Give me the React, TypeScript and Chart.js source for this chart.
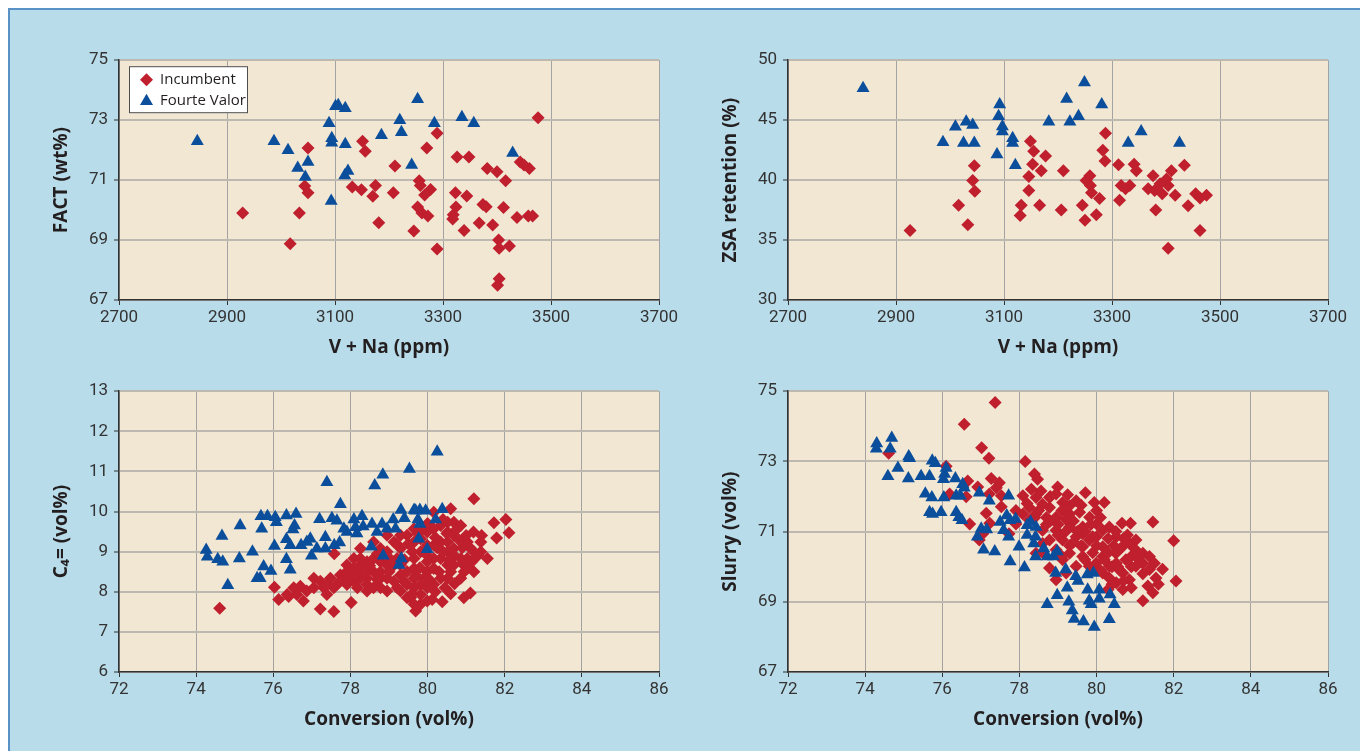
import React, { useEffect, useRef } from "react";
import { Chart, registerables } from "chart.js";

Chart.register(...registerables);

const RED = "#c01f2e";
const BLUE = "#0b4e9c";

const SERIES_NAMES = ["Incumbent", "Fourte Valor"];

// ---- Tick labels ----
const vnaTicks = [2700, 2900, 3100, 3300, 3500, 3700];
const factTicks = [67, 69, 71, 73, 75];
const zsaTicks = [30, 35, 40, 45, 50];
const convTicks = [72, 74, 76, 78, 80, 82, 84, 86];
const c4Ticks = [6, 7, 8, 9, 10, 11, 12, 13];
const slurryTicks = [67, 69, 71, 73, 75];

// ---- FACT vs V+Na ----
const factIncumbent: [number, number][] = [
  [2929, 69.9], [3017, 68.88], [3034, 69.9], [3050, 72.07], [3044, 70.8], [3050, 70.58], [3151, 72.3], [3156, 71.96],
  [3132, 70.77], [3149, 70.68], [3175, 70.82], [3170, 70.46], [3208, 70.58], [3181, 69.58], [3211, 71.47], [3270, 72.07],
  [3289, 72.56], [3256, 70.98], [3258, 70.82], [3277, 70.69], [3266, 70.5], [3253, 70.1], [3261, 69.9], [3272, 69.8],
  [3246, 69.3], [3289, 68.7], [3326, 71.77], [3348, 71.77], [3323, 70.58], [3344, 70.47], [3324, 70.1], [3319, 69.84],
  [3318, 69.7], [3339, 69.32], [3367, 69.57], [3374, 70.19], [3380, 70.11], [3392, 69.5], [3403, 69.0], [3404, 68.73],
  [3423, 68.8], [3412, 70.09], [3416, 70.98], [3382, 71.39], [3400, 71.28], [3443, 71.6], [3460, 71.39], [3437, 69.75],
  [3458, 69.8], [3466, 69.8], [3404, 67.71], [3401, 67.49], [3476, 73.08], [3450, 71.5],
];
const factFourte: [number, number][] = [
  [2845, 72.3], [2987, 72.3], [3013, 72.0], [3050, 71.6], [3031, 71.4], [3045, 71.1], [3093, 70.3], [3101, 73.46],
  [3106, 73.5], [3119, 73.4], [3089, 72.9], [3094, 72.4], [3094, 72.25], [3119, 72.2], [3124, 71.3], [3118, 71.15],
  [3186, 72.5], [3220, 73.0], [3223, 72.6], [3253, 73.7], [3284, 72.9], [3242, 71.5], [3335, 73.1], [3357, 72.9],
  [3429, 71.9],
];

// ---- ZSA retention vs V+Na ----
const zsaIncumbent: [number, number][] = [
  [2926, 35.8], [3016, 37.9], [3033, 36.28], [3045, 41.19], [3042, 39.96], [3046, 39.06], [3149, 43.23], [3155, 42.41],
  [3177, 42.0], [3153, 41.32], [3169, 40.78], [3146, 40.29], [3146, 39.14], [3132, 37.9], [3130, 37.04], [3166, 37.9],
  [3210, 40.78], [3206, 37.5], [3259, 40.37], [3252, 39.96], [3260, 39.55], [3262, 38.95], [3277, 38.46], [3245, 37.9],
  [3271, 37.1], [3250, 36.66], [3288, 43.91], [3283, 42.49], [3287, 41.6], [3312, 41.27], [3341, 41.32], [3345, 40.78],
  [3317, 39.55], [3333, 39.55], [3325, 39.28], [3314, 38.32], [3376, 40.37], [3367, 39.28], [3379, 39.14], [3401, 40.1],
  [3410, 40.78], [3393, 38.87], [3417, 38.73], [3381, 37.5], [3434, 41.24], [3441, 37.86], [3455, 38.87], [3463, 38.5],
  [3475, 38.73], [3463, 35.8], [3404, 34.32], [3404, 39.55], [3389, 39.7],
];
const zsaFourte: [number, number][] = [
  [2839, 47.67], [2987, 43.15], [3010, 44.45], [3030, 44.86], [3042, 44.6], [3025, 43.1], [3045, 43.1], [3092, 46.3],
  [3090, 45.33], [3097, 44.46], [3097, 44.05], [3116, 43.5], [3116, 43.1], [3087, 42.14], [3121, 41.24], [3183, 44.86],
  [3216, 46.77], [3222, 44.86], [3238, 45.33], [3249, 48.13], [3281, 46.3], [3330, 43.1], [3354, 44.05], [3425, 43.1],
];

// ---- C4= vs Conversion ----
const c4Incumbent: [number, number][] = [
  [74.61, 7.59], [76.03, 8.11], [76.14, 7.81], [76.4, 7.88], [76.61, 7.93], [76.78, 7.77], [76.7, 8.14], [77.05, 8.34],
  [77.22, 7.57], [77.57, 7.51], [78.02, 7.73], [77.31, 8.1], [77.65, 8.18], [77.74, 8.42], [77.91, 8.18], [78.09, 8.5],
  [78.26, 8.67], [78.43, 8.34], [78.6, 8.1], [78.78, 8.5], [78.43, 8.75], [78.95, 9.0], [78.78, 9.08], [79.13, 9.24],
  [79.21, 8.1], [79.47, 7.85], [79.69, 7.52], [79.82, 7.69], [79.65, 8.34], [79.99, 8.5], [80.16, 8.18], [80.38, 7.75],
  [80.12, 7.81], [80.94, 7.85], [81.11, 7.97], [80.52, 9.49], [80.68, 9.73], [80.6, 10.07], [81.2, 10.32], [80.16, 9.98],
  [81.72, 9.72], [82.03, 9.8], [82.11, 9.47], [81.79, 9.34], [81.19, 9.49], [81.38, 9.24], [81.55, 8.83], [81.03, 8.83],
  [81.2, 8.5], [80.86, 8.34], [80.52, 8.34], [80.68, 8.67], [80.34, 8.83], [80.16, 9.16], [79.82, 9.0], [79.99, 9.49],
  [81.03, 9.24], [81.38, 9.0], [80.86, 9.65], [79.65, 8.83], [79.47, 8.5], [79.3, 8.42], [79.13, 8.67], [78.95, 8.34],
  [79.3, 9.08], [79.47, 9.41], [79.65, 9.57], [78.95, 9.41], [78.6, 9.24], [78.26, 9.08], [78.09, 8.83], [77.91, 8.67],
  [77.74, 8.26], [77.48, 8.34], [77.22, 8.26], [76.87, 8.02], [77.05, 8.1], [77.39, 7.93], [78.18, 8.1], [78.43, 8.02],
  [78.78, 8.1], [78.95, 8.02], [79.3, 8.02], [79.65, 8.1], [79.82, 7.93], [79.47, 8.18], [79.99, 8.1], [80.34, 8.34],
  [80.16, 8.58], [80.52, 8.67], [80.86, 8.83], [80.68, 9.08], [80.34, 9.24], [80.52, 9.24], [80.68, 9.41], [81.03, 8.58],
  [81.2, 9.0], [80.16, 8.83], [79.99, 8.75], [79.65, 8.58], [79.21, 8.83], [78.78, 8.75], [78.6, 8.5], [78.43, 8.5],
  [78.26, 8.34], [78.09, 8.26], [77.91, 8.34], [77.57, 8.1], [77.39, 8.18], [76.53, 8.1], [76.36, 7.93], [78.43, 8.18],
  [78.09, 8.42], [79.65, 9.24], [79.3, 9.41], [79.82, 9.32], [79.99, 9.16], [80.52, 9.0], [80.34, 9.65], [80.52, 9.73],
  [80.16, 9.57], [79.9, 8.34], [79.82, 8.18], [79.56, 7.85], [79.65, 7.69], [79.99, 7.77], [79.13, 8.26], [78.78, 8.34],
  [78.6, 8.83], [78.26, 8.83], [78.95, 8.67], [79.3, 8.67], [77.58, 8.95], [79.89, 9.57],
  [80.9, 9.1], [81.0, 9.4], [80.7, 8.9], [80.4, 9.0], [80.3, 8.5], [80.0, 8.9], [79.8, 8.6], [80.6, 8.5],
  [80.9, 8.7], [81.1, 9.1], [80.5, 9.45], [80.2, 9.35], [79.9, 9.0], [79.6, 9.0], [79.4, 8.8], [79.7, 8.4],
  [80.05, 8.3], [80.45, 8.1], [80.7, 8.2], [80.95, 8.5], [81.3, 8.9], [81.4, 9.4], [80.75, 9.55], [80.4, 9.8],
  [80.0, 9.7], [79.5, 9.2], [79.2, 9.2], [79.0, 8.85], [78.7, 8.95], [78.5, 8.65], [78.3, 8.55], [78.1, 8.6],
  [77.9, 8.5], [78.7, 8.3], [79.0, 8.5], [79.4, 8.25], [80.2, 8.0], [80.6, 7.95], [79.6, 7.95], [79.9, 8.2],
  [80.8, 9.3], [81.15, 8.75], [80.55, 8.8], [79.75, 9.45], [80.25, 9.1],
];
const c4Fourte: [number, number][] = [
  [80.25, 11.49], [79.53, 11.06], [78.84, 10.92], [78.63, 10.65], [77.39, 10.73], [77.74, 10.18], [74.26, 9.04], [74.29, 8.87],
  [74.56, 8.81], [74.69, 8.75], [74.67, 9.39], [74.82, 8.16], [75.14, 9.65], [75.12, 8.83], [75.46, 9.0], [75.58, 8.34],
  [75.66, 8.34], [75.75, 8.63], [75.7, 9.57], [75.68, 9.88], [75.85, 9.88], [76.05, 9.86], [76.08, 9.73], [75.94, 8.52],
  [76.03, 9.14], [76.34, 9.9], [76.59, 9.94], [76.55, 9.65], [76.51, 9.55], [76.34, 9.31], [76.34, 8.81], [76.44, 8.55],
  [76.44, 9.16], [76.72, 9.16], [76.87, 9.24], [76.96, 9.32], [76.99, 8.9], [77.2, 9.81], [77.35, 9.36], [77.13, 9.08],
  [77.35, 9.08], [77.52, 9.83], [77.58, 9.16], [77.65, 9.77], [77.72, 9.23], [77.83, 9.57], [77.91, 9.49], [78.09, 9.8],
  [78.13, 9.61], [78.3, 9.88], [78.33, 9.63], [78.17, 9.45], [78.56, 9.69], [78.54, 9.12], [78.69, 9.49], [78.82, 9.69],
  [78.85, 8.9], [78.95, 9.57], [79.11, 9.8], [79.17, 9.57], [79.31, 10.04], [79.4, 9.83], [79.32, 8.83], [79.26, 8.67],
  [79.65, 10.04], [79.69, 10.02], [79.8, 10.04], [79.95, 10.02], [79.75, 9.8], [79.8, 9.69], [79.77, 9.32], [79.99, 9.06],
  [80.21, 9.8], [80.38, 10.06],
];

// ---- Slurry vs Conversion ----
const slurryIncumbent: [number, number][] = [
  [77.37, 74.68], [76.57, 74.06], [77.02, 73.39], [77.21, 73.09], [74.61, 73.23], [78.15, 73.0], [76.1, 72.86], [78.39, 72.64],
  [78.47, 72.49], [77.27, 72.51], [77.48, 72.39], [76.66, 72.44], [76.92, 72.27], [78.99, 72.27], [79.25, 72.05], [79.71, 72.11],
  [79.94, 71.83], [80.2, 71.83], [76.19, 72.07], [76.62, 71.99], [77.22, 72.07], [77.53, 72.02], [78.09, 72.02], [78.31, 72.21],
  [78.56, 72.16], [78.78, 71.97], [79.12, 71.83], [77.14, 71.52], [77.53, 71.71], [76.71, 71.22], [77.23, 71.24], [77.91, 71.6],
  [78.26, 71.69], [78.43, 71.5], [78.78, 71.69], [78.95, 71.41], [79.3, 71.5], [79.56, 71.55], [79.82, 71.41], [80.0, 71.22],
  [80.33, 71.13], [80.66, 71.24], [80.88, 71.24], [81.46, 71.27], [82.0, 70.74], [82.06, 69.59], [81.71, 69.93], [81.54, 69.68],
  [81.33, 69.45], [81.46, 69.26], [81.2, 69.03], [81.2, 70.1], [81.02, 70.38], [80.85, 70.66], [80.51, 70.85], [80.16, 71.04],
  [79.64, 71.13], [79.3, 71.13], [78.95, 71.04], [78.6, 71.04], [78.78, 70.76], [79.12, 70.76], [79.47, 70.85], [79.81, 70.76],
  [80.16, 70.57], [80.5, 70.38], [80.76, 70.2], [81.02, 70.01], [80.68, 69.82], [80.51, 69.54], [80.33, 69.68], [80.16, 69.82],
  [79.99, 70.1], [79.64, 70.29], [79.3, 70.38], [78.95, 70.48], [78.6, 70.66], [79.12, 70.2], [78.78, 69.96], [79.47, 70.01],
  [79.81, 70.01], [80.33, 70.01], [80.67, 70.57], [81.2, 70.38], [81.37, 69.92], [78.43, 71.97], [78.6, 71.78], [78.95, 72.07],
  [79.47, 71.88], [79.3, 71.74], [80.0, 71.6], [79.64, 70.94], [80.0, 70.85], [80.16, 70.29], [80.51, 70.1], [80.85, 69.63],
  [80.68, 69.35], [77.91, 71.22], [77.73, 70.94], [78.26, 71.32], [78.09, 71.5], [77.4, 72.25], [77.05, 70.94], [76.96, 70.76],
  [78.95, 69.63], [79.21, 69.82], [78.43, 70.38], [79.64, 70.57], [81.02, 70.76], [81.37, 70.29],
  [78.7, 71.4], [79.0, 71.2], [79.2, 71.0], [79.4, 70.7], [79.6, 70.6], [79.9, 70.4], [80.2, 70.2], [80.4, 70.0],
  [80.6, 69.9], [80.9, 70.0], [79.1, 71.6], [79.4, 71.3], [79.7, 71.0], [80.0, 70.6], [80.3, 70.4], [80.6, 70.5],
  [80.9, 70.3], [81.1, 70.2], [78.5, 71.6], [78.8, 71.3], [79.5, 71.0], [79.85, 71.2], [80.3, 70.8], [80.7, 70.8],
  [80.4, 69.5], [80.7, 69.6], [80.55, 70.0], [80.1, 69.9], [79.7, 70.2], [79.3, 70.6], [79.0, 70.9], [78.7, 71.2],
  [78.4, 71.4], [78.2, 71.8], [78.8, 72.0], [79.6, 71.75], [80.1, 71.4], [80.5, 71.0], [81.0, 70.5], [81.2, 69.8],
  [80.9, 69.4], [80.3, 69.35], [79.1, 70.3], [78.6, 70.4], [79.9, 70.85], [79.2, 71.35], [80.45, 70.6], [81.5, 70.1],
  [81.6, 69.5], [80.8, 70.9],
];
const slurryFourte: [number, number][] = [
  [74.3, 73.51], [74.29, 73.36], [74.69, 73.67], [74.65, 73.36], [74.59, 72.58], [74.85, 72.81], [75.13, 73.14], [75.15, 73.09],
  [75.12, 72.51], [75.45, 72.58], [75.67, 72.58], [75.74, 73.02], [75.82, 72.95], [76.06, 72.64], [76.03, 72.49], [76.1, 72.81],
  [75.56, 72.08], [75.73, 71.97], [75.67, 71.55], [75.75, 71.5], [75.97, 71.55], [76.04, 71.97], [76.34, 72.51], [76.53, 72.35],
  [76.57, 72.25], [76.36, 72.02], [76.47, 72.02], [76.36, 71.55], [76.43, 71.41], [76.51, 71.32], [76.96, 72.11], [77.22, 71.88],
  [77.72, 72.02], [77.01, 71.08], [77.15, 71.06], [76.91, 70.85], [77.07, 70.48], [77.36, 70.43], [77.5, 71.27], [77.67, 71.46],
  [77.76, 71.32], [77.59, 71.04], [77.72, 70.85], [77.9, 71.36], [77.76, 70.15], [78.13, 69.98], [78.29, 71.27], [78.2, 70.9],
  [78.42, 70.85], [77.99, 70.57], [78.37, 70.66], [78.42, 70.29], [78.63, 70.52], [78.72, 70.29], [78.88, 70.29], [78.98, 70.43],
  [78.94, 69.82], [79.2, 69.92], [79.46, 69.73], [79.52, 69.59], [79.76, 69.78], [79.92, 69.82], [79.24, 69.4], [78.98, 69.19],
  [78.72, 68.93], [79.28, 69.0], [79.37, 68.75], [79.42, 68.51], [79.66, 68.44], [79.94, 68.28], [79.77, 69.34], [80.07, 69.34],
  [79.81, 69.03], [79.86, 68.93], [80.07, 69.09], [80.35, 69.21], [80.46, 68.93], [80.33, 68.5], [78.43, 71.13], [78.2, 71.18],
];

const TICK_FONT = { family: "Roboto, 'Open Sans', sans-serif", size: 17 };
const TITLE_FONT = { family: "'Open Sans', 'Noto Sans', sans-serif", size: 19, weight: "bold" as const };

const plotBg = {
  id: "plotBg",
  beforeDraw(chart: any) {
    const { ctx, chartArea: a } = chart;
    ctx.save();
    ctx.fillStyle = "#f1e7d3";
    ctx.fillRect(a.left, a.top, a.right - a.left, a.bottom - a.top);
    ctx.restore();
  },
};

function drawMarker(ctx: CanvasRenderingContext2D, style: string, x: number, y: number, r: number) {
  ctx.beginPath();
  if (style === "rectRot") {
    ctx.moveTo(x, y - r);
    ctx.lineTo(x + r, y);
    ctx.lineTo(x, y + r);
    ctx.lineTo(x - r, y);
  } else {
    const w = r * Math.sin(Math.PI / 3);
    ctx.moveTo(x, y - r);
    ctx.lineTo(x + w, y + r / 2);
    ctx.lineTo(x - w, y + r / 2);
  }
  ctx.closePath();
  ctx.fill();
}

const boxLegend = {
  id: "boxLegend",
  afterDraw(chart: any, _args: any, opts: any) {
    if (!opts || !opts.show) return;
    const { ctx, chartArea: a } = chart;
    const left = a.left + 10;
    const top = a.top + 6;
    const w = 119;
    const h = 47;
    ctx.save();
    ctx.fillStyle = "#ffffff";
    ctx.fillRect(left, top, w, h);
    ctx.strokeStyle = "#4d4d4d";
    ctx.lineWidth = 1;
    ctx.strokeRect(left + 0.5, top + 0.5, w - 1, h - 1);
    ctx.font = "15px 'Open Sans', sans-serif";
    ctx.textBaseline = "middle";
    ctx.textAlign = "left";
    chart.data.datasets.forEach((ds: any, i: number) => {
      const cy = top + 13.5 + i * 21.5;
      ctx.fillStyle = ds.backgroundColor;
      drawMarker(ctx, ds.pointStyle, left + 17.5, cy, ds.pointStyle === "rectRot" ? 6.5 : 7.5);
      ctx.fillStyle = "#231f20";
      ctx.fillText(ds.label, left + 31, cy);
    });
    ctx.restore();
  },
};

type PanelProps = {
  left: number;
  top: number;
  width: number;
  height: number;
  inc: [number, number][];
  fv: [number, number][];
  xTicks: number[];
  yTicks: number[];
  xTitle: string;
  yTitle: string;
  legend?: boolean;
};

function ScatterPanel(p: PanelProps) {
  const ref = useRef<HTMLCanvasElement | null>(null);
  useEffect(() => {
    if (!ref.current) return;
    const toPts = (arr: [number, number][]) => arr.map(([x, y]) => ({ x, y }));
    const chart = new Chart(ref.current, {
      type: "scatter",
      data: {
        datasets: [
          {
            label: SERIES_NAMES[0],
            data: toPts(p.inc),
            pointStyle: "rectRot",
            pointRadius: 6.5,
            pointHoverRadius: 6.5,
            backgroundColor: RED,
            borderColor: RED,
            borderWidth: 0,
            order: 1,
          },
          {
            label: SERIES_NAMES[1],
            data: toPts(p.fv),
            pointStyle: "triangle",
            pointRadius: 7.5,
            pointHoverRadius: 7.5,
            backgroundColor: BLUE,
            borderColor: BLUE,
            borderWidth: 0,
            order: 0,
          },
        ],
      },
      options: {
        responsive: false,
        maintainAspectRatio: false,
        animation: false,
        events: [],
        layout: { padding: { left: 0, right: 25, top: 12, bottom: 0 } },
        plugins: {
          legend: { display: false },
          tooltip: { enabled: false },
          // @ts-ignore
          boxLegend: { show: !!p.legend },
        },
        scales: {
          x: {
            type: "linear",
            min: p.xTicks[0],
            max: p.xTicks[p.xTicks.length - 1],
            afterBuildTicks: (s: any) => {
              s.ticks = p.xTicks.map((v) => ({ value: v }));
            },
            afterFit: (s: any) => {
              s.height = 60;
            },
            ticks: {
              callback: (v: any) => String(v),
              font: TICK_FONT,
              color: "#333333",
              padding: 3,
              maxRotation: 0,
              autoSkip: false,
            },
            grid: { color: "#a3a3a3", lineWidth: 1, tickColor: "#333333", tickLength: 5, tickWidth: 1 },
            border: { color: "#333333", width: 1.5 },
            title: {
              display: true,
              text: p.xTitle,
              font: TITLE_FONT,
              color: "#231f20",
              padding: { top: 0, bottom: 1 },
            },
          },
          y: {
            type: "linear",
            min: p.yTicks[0],
            max: p.yTicks[p.yTicks.length - 1],
            afterBuildTicks: (s: any) => {
              s.ticks = p.yTicks.map((v) => ({ value: v }));
            },
            afterFit: (s: any) => {
              s.width = 79;
            },
            ticks: {
              callback: (v: any) => String(v),
              font: TICK_FONT,
              color: "#333333",
              padding: 6,
              autoSkip: false,
            },
            grid: { color: "#bdb9b0", lineWidth: 2, tickColor: "#333333", tickLength: 5, tickWidth: 1 },
            border: { color: "#333333", width: 1.5 },
            title: {
              display: true,
              text: p.yTitle,
              font: TITLE_FONT,
              color: "#231f20",
              padding: { top: 10, bottom: 0 },
            },
          },
        },
      },
      plugins: [plotBg, boxLegend],
    } as any);
    return () => chart.destroy();
  }, []);
  return (
    <canvas
      ref={ref}
      width={p.width}
      height={p.height}
      style={{ position: "absolute", left: p.left, top: p.top, width: p.width, height: p.height }}
    />
  );
}

export default function App() {
  return (
    <div style={{ position: "fixed", left: 0, top: 0, width: 1360, height: 751, background: "#ffffff", overflow: "hidden" }}>
      <div
        style={{
          position: "absolute",
          left: 8,
          top: 8,
          right: 0,
          bottom: 0,
          background: "#b9dcea",
          borderTop: "2px solid #5a91c7",
          borderLeft: "2px solid #5a91c7",
        }}
      />
      <ScatterPanel
        left={40} top={44} width={644} height={316}
        inc={factIncumbent} fv={factFourte}
        xTicks={vnaTicks} yTicks={factTicks}
        xTitle="V + Na (ppm)" yTitle="FACT (wt%)" legend
      />
      <ScatterPanel
        left={709} top={44} width={644} height={316}
        inc={zsaIncumbent} fv={zsaFourte}
        xTicks={vnaTicks} yTicks={zsaTicks}
        xTitle="V + Na (ppm)" yTitle="ZSA retention (%)"
      />
      <ScatterPanel
        left={40} top={375} width={644} height={357}
        inc={c4Incumbent} fv={c4Fourte}
        xTicks={convTicks} yTicks={c4Ticks}
        xTitle="Conversion (vol%)" yTitle="C₄= (vol%)"
      />
      <ScatterPanel
        left={709} top={375} width={644} height={357}
        inc={slurryIncumbent} fv={slurryFourte}
        xTicks={convTicks} yTicks={slurryTicks}
        xTitle="Conversion (vol%)" yTitle="Slurry (vol%)"
      />
    </div>
  );
}
